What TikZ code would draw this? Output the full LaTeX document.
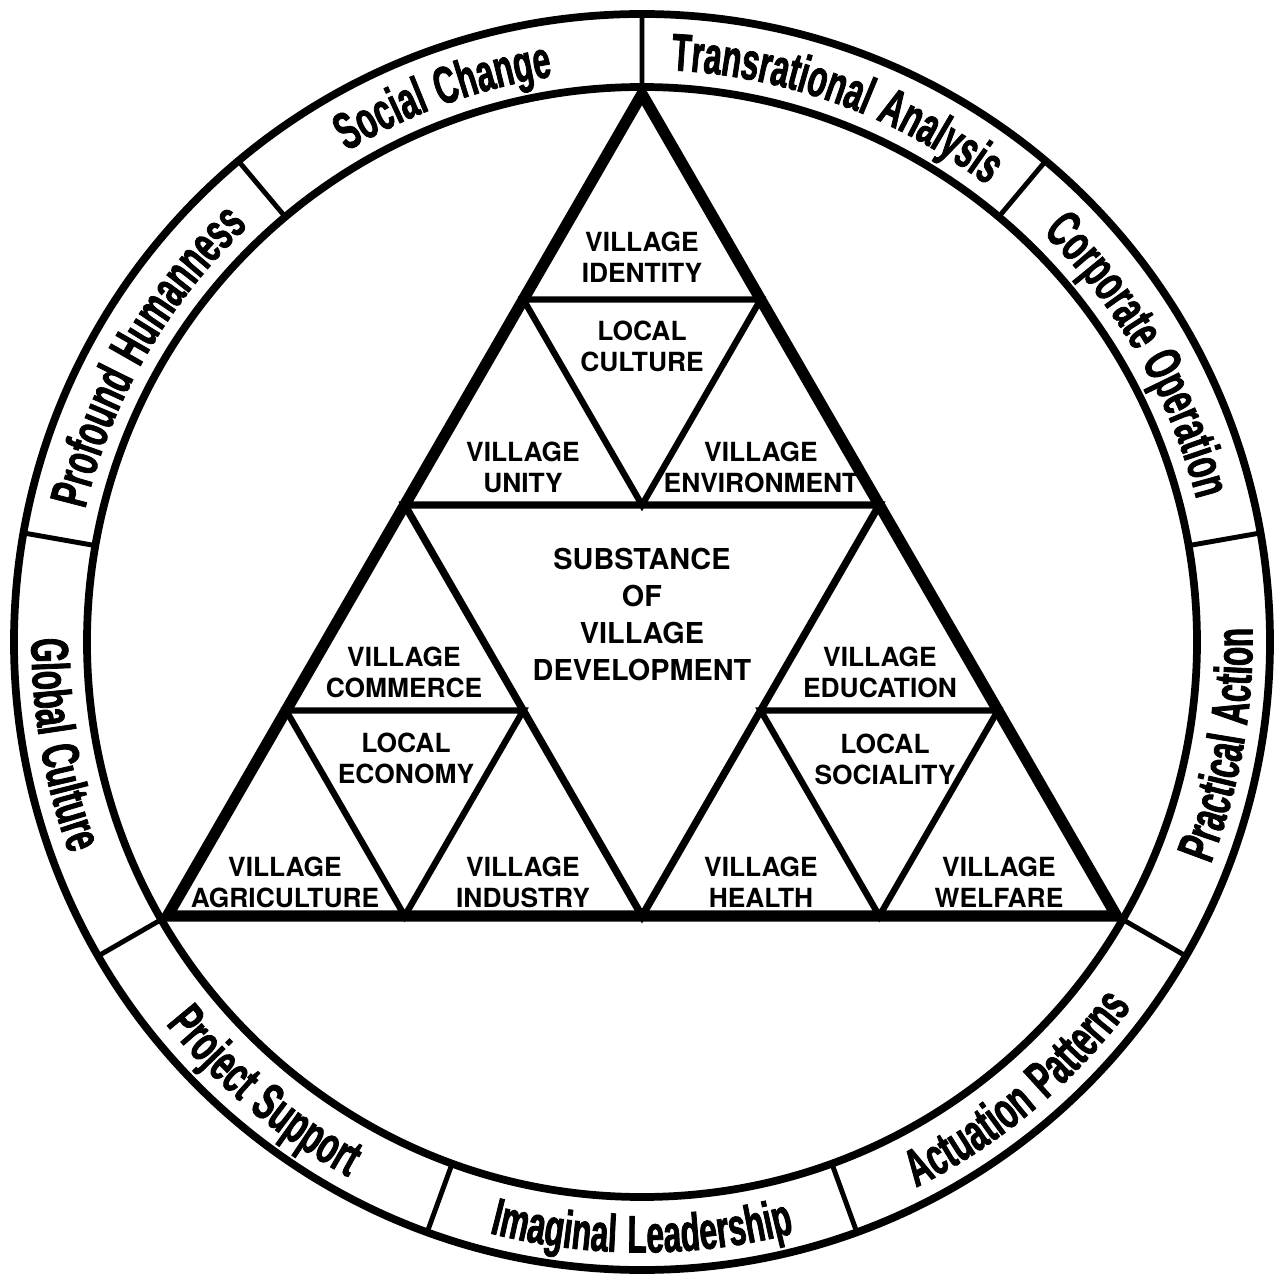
\documentclass[tikz,border=0pt]{standalone}
\usepackage{fontspec}
\setmainfont{TeX Gyre Heros}
\newfontfamily\ringfont{Liberation Sans Bold}[FakeStretch=0.6,FakeBold=1.5,LetterSpace=5]
\usetikzlibrary{calc,decorations.text}
\tikzset{
  rim/.style={draw=black,line width=2.2pt},
  spk/.style={draw=black,line width=1.4pt},
  edg/.style={draw=black,line width=3.2pt,line join=miter},
  mde/.style={draw=black,line width=2.1pt,line join=miter},
  sbe/.style={draw=black,line width=1.8pt,line join=miter},
  lb/.style={font=\bfseries\fontsize{7.5}{8.8}\selectfont,align=center,inner sep=0pt},
  lbb/.style={font=\bfseries\fontsize{8.2}{10.5}\selectfont,align=center,inner sep=0pt},
  % a ring label follows its arc: drawn clockwise the letters stand outward,
  % drawn the other way round they stand inward and read upright at the bottom
  rlb/.style={decorate,decoration={text along path,text align=center,
    text={|\ringfont\fontsize{15}{15}\selectfont|#1}}},
}
\begin{document}
\begin{tikzpicture}
\useasboundingbox (-6.42,-6.34) rectangle (6.33,6.42);
\coordinate (O) at (0,0);
\draw[rim] (O) circle (6.28) (O) circle (5.55);
\draw[spk] (90:5.55)--(90:6.28) (50:5.55)--(50:6.28) (10:5.55)--(10:6.28)
  (-30:5.55)--(-30:6.28) (-70:5.55)--(-70:6.28) (-110:5.55)--(-110:6.28)
  (-150:5.55)--(-150:6.28) (170:5.55)--(170:6.28) (130:5.55)--(130:6.28);
\path[rlb={Social Change}] (129:5.725) arc[start angle=129,end angle=91,radius=5.725];
\path[rlb={Transrational Analysis}] (89:5.725) arc[start angle=89,end angle=51,radius=5.725];
\path[rlb={Corporate Operation}] (49:5.725) arc[start angle=49,end angle=11,radius=5.725];
\path[rlb={Practical Action}] (-29:6.105) arc[start angle=-29,end angle=9,radius=6.105];
\path[rlb={Actuation Patterns}] (-69:6.105) arc[start angle=-69,end angle=-31,radius=6.105];
\path[rlb={Imaginal Leadership}] (-109:6.105) arc[start angle=-109,end angle=-71,radius=6.105];
\path[rlb={Project Support}] (-149:6.105) arc[start angle=-149,end angle=-111,radius=6.105];
\path[rlb={Global Culture}] (171:6.105) arc[start angle=171,end angle=209,radius=6.105];
\path[rlb={Profound Humanness}] (169:5.725) arc[start angle=169,end angle=131,radius=5.725];

\coordinate (T) at (90:5.48);
\coordinate (L) at (210:5.48);
\coordinate (R) at (330:5.48);
\coordinate (TL) at ($(T)!.5!(L)$);
\coordinate (TR) at ($(T)!.5!(R)$);
\coordinate (LR) at ($(L)!.5!(R)$);
\coordinate (t1) at ($(T)!.5!(TL)$); \coordinate (t2) at ($(T)!.5!(TR)$);
\coordinate (t3) at ($(TL)!.5!(TR)$);
\coordinate (l1) at ($(TL)!.5!(L)$); \coordinate (l2) at ($(TL)!.5!(LR)$);
\coordinate (l3) at ($(L)!.5!(LR)$);
\coordinate (r1) at ($(TR)!.5!(LR)$); \coordinate (r2) at ($(TR)!.5!(R)$);
\coordinate (r3) at ($(LR)!.5!(R)$);
\draw[sbe] (t1)--(t2)--(t3)--cycle (l1)--(l2)--(l3)--cycle (r1)--(r2)--(r3)--cycle;
\draw[mde] (TL)--(TR)--(LR)--cycle;
\draw[edg] (T)--(L)--(R)--cycle;

\node[lb] (idn) at (0,3.85) {VILLAGE\\IDENTITY};
\node[lb] (cul) at (0,2.96) {LOCAL\\CULTURE};
\node[lb] (uni) at (-1.19,1.745) {VILLAGE\\UNITY};
\node[lb] (env) at (1.19,1.745) {VILLAGE\\ENVIRONMENT};
\node[lbb] (sub) at (0,0.275) {SUBSTANCE\\OF\\VILLAGE\\DEVELOPMENT};
\node[lb] (com) at (-2.38,-0.30) {VILLAGE\\COMMERCE};
\node[lb] (eco) at (-2.36,-1.16) {LOCAL\\ECONOMY};
\node[lb] (agr) at (-3.57,-2.40) {VILLAGE\\AGRICULTURE};
\node[lb] (ind) at (-1.19,-2.40) {VILLAGE\\INDUSTRY};
\node[lb] (edu) at (2.38,-0.30) {VILLAGE\\EDUCATION};
\node[lb] (soc) at (2.43,-1.17) {LOCAL\\SOCIALITY};
\node[lb] (hea) at (1.19,-2.40) {VILLAGE\\HEALTH};
\node[lb] (wel) at (3.57,-2.40) {VILLAGE\\WELFARE};
\end{tikzpicture}
\end{document}
